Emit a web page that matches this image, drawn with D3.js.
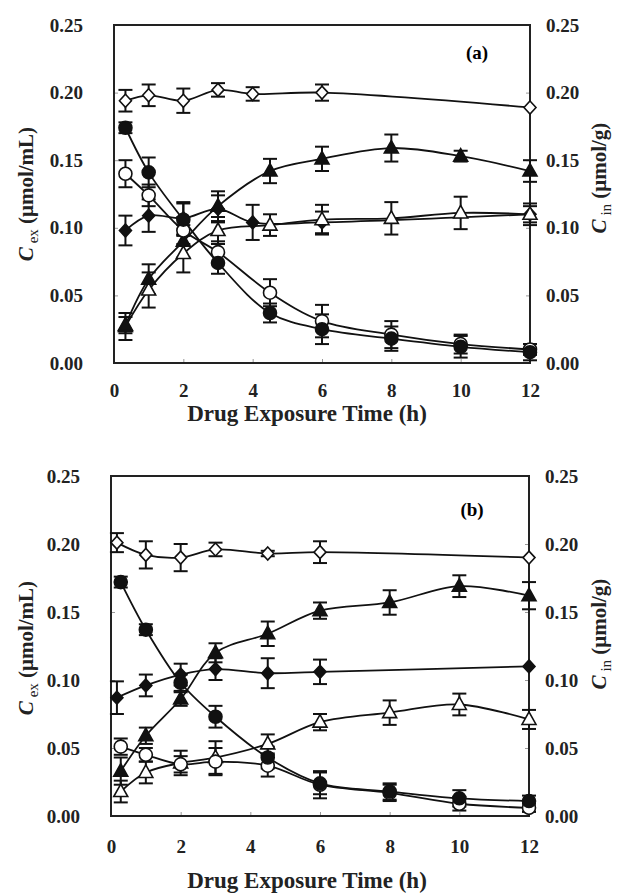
<!DOCTYPE html>
<html><head><meta charset="utf-8">
<script src="https://cdn.jsdelivr.net/npm/d3@7"></script>
<style>body{margin:0;background:#fff}</style>
</head><body><svg id="c" width="623" height="896"></svg>
<script>
// ---------- data ----------
const xTicks = [0, 2, 4, 6, 8, 10, 12];
const yTicks = [0, 0.05, 0.10, 0.15, 0.20, 0.25];

// Panel (a)
const tA = [0.33, 1, 2, 3, 4.5, 6, 8, 10, 12];
const tA_dia = [0.33, 1, 2, 3, 4, 6, 12];
const A_circleFilled = [0.174, 0.141, 0.106, 0.074, 0.037, 0.025, 0.018, 0.012, 0.008];
const A_circleFilledErr = [0.004, 0.011, 0.012, 0.008, 0.007, 0.011, 0.009, 0.008, 0.006];
const A_circleOpen = [0.140, 0.124, 0.098, 0.082, 0.052, 0.031, 0.021, 0.014, 0.010];
const A_circleOpenErr = [0.010, 0.008, 0.010, 0.008, 0.010, 0.012, 0.010, 0.007, 0.004];
const A_triFilled = [0.028, 0.062, 0.090, 0.116, 0.142, 0.151, 0.159, 0.153, 0.142];
const A_triFilledErr = [0.006, 0.011, 0.012, 0.011, 0.009, 0.009, 0.010, 0.004, 0.008];
const A_triOpen = [0.027, 0.054, 0.081, 0.098, 0.102, 0.106, 0.107, 0.111, 0.110];
const A_triOpenErr = [0.010, 0.013, 0.014, 0.010, 0.008, 0.011, 0.012, 0.012, 0.008];
const A_diaOpen = [0.194, 0.198, 0.194, 0.202, 0.199, 0.200, 0.189];
const A_diaOpenErr = [0.008, 0.008, 0.009, 0.005, 0.005, 0.006, 0];
const A_diaFilled = [0.098, 0.109, 0.107, 0.114, 0.104, 0.104, 0.110];
const A_diaFilledErr = [0.011, 0.012, 0.012, 0.010, 0.013, 0.008, 0.006];

// Panel (b)
const tB = [0.28, 1, 2, 3, 4.5, 6, 8, 10, 12];
const tB_dia = [0.17, 1, 2, 3, 4.5, 6, 12];
const B_circleFilled = [0.172, 0.137, 0.098, 0.073, 0.043, 0.024, 0.018, 0.013, 0.011];
const B_circleFilledErr = [0.004, 0.004, 0.006, 0.008, 0.008, 0.008, 0.006, 0.006, 0.004];
const B_circleOpen = [0.051, 0.045, 0.038, 0.040, 0.037, 0.023, 0.017, 0.009, 0.006];
const B_circleOpenErr = [0.006, 0.005, 0.006, 0.010, 0.008, 0.010, 0.006, 0.005, 0.003];
const B_triFilled = [0.033, 0.059, 0.086, 0.120, 0.134, 0.151, 0.157, 0.169, 0.162];
const B_triFilledErr = [0.010, 0.006, 0.005, 0.007, 0.009, 0.006, 0.009, 0.008, 0.010];
const B_triOpen = [0.018, 0.032, 0.039, 0.043, 0.053, 0.069, 0.076, 0.082, 0.071];
const B_triOpenErr = [0.008, 0.008, 0.009, 0.012, 0.007, 0.006, 0.009, 0.008, 0.007];
const B_diaOpen = [0.201, 0.192, 0.190, 0.196, 0.193, 0.194, 0.190];
const B_diaOpenErr = [0.007, 0.010, 0.010, 0.005, 0.002, 0.008, 0];
const B_diaFilled = [0.087, 0.096, 0.104, 0.108, 0.105, 0.106, 0.110];
const B_diaFilledErr = [0.012, 0.008, 0.008, 0.008, 0.011, 0.009, 0];

// ---------- drawing ----------
const svg = d3.select("#c");
const FONT = "'Liberation Serif','Times New Roman',serif";

function zip(t, v, e) { return t.map((x, i) => ({ t: x, v: v[i], e: e[i] })); }

const panels = [
  { label: "(a)", box: { l: 114, r: 530, t: 25, b: 363 }, xPad: 21, xTitleY: 421, labelPos: [477, 59],
    yTitleC: 194, yTitleRC: 178,
    series: [
      { d: zip(tA_dia, A_diaOpen, A_diaOpenErr), shape: "diamond", fill: false },
      { d: zip(tA_dia, A_diaFilled, A_diaFilledErr), shape: "diamond", fill: true },
      { d: zip(tA, A_triOpen, A_triOpenErr), shape: "triangle", fill: false },
      { d: zip(tA, A_triFilled, A_triFilledErr), shape: "triangle", fill: true },
      { d: zip(tA, A_circleOpen, A_circleOpenErr), shape: "circle", fill: false },
      { d: zip(tA, A_circleFilled, A_circleFilledErr), shape: "circle", fill: true },
    ] },
  { label: "(b)", box: { l: 111, r: 529, t: 476, b: 816 }, xPad: 24, xTitleY: 888, labelPos: [472, 516],
    yTitleC: 648, yTitleRC: 634,
    series: [
      { d: zip(tB_dia, B_diaOpen, B_diaOpenErr), shape: "diamond", fill: false },
      { d: zip(tB_dia, B_diaFilled, B_diaFilledErr), shape: "diamond", fill: true },
      { d: zip(tB, B_triOpen, B_triOpenErr), shape: "triangle", fill: false },
      { d: zip(tB, B_triFilled, B_triFilledErr), shape: "triangle", fill: true },
      { d: zip(tB, B_circleOpen, B_circleOpenErr), shape: "circle", fill: false },
      { d: zip(tB, B_circleFilled, B_circleFilledErr), shape: "circle", fill: true },
    ] },
];

function markerPath(shape) {
  if (shape === "circle") { const p = d3.path(); p.arc(0, 0, 6.5, 0, 2 * Math.PI); return p.toString(); }
  if (shape === "triangle") return "M0,-7.5L7,5L-7,5Z";
  return "M0,-6.5L6,0L0,6.5L-6,0Z";
}

panels.forEach(P => {
  const { l, r, t, b } = P.box;
  const x = d3.scaleLinear().domain([0, 12]).range([l, r]);
  const y = d3.scaleLinear().domain([0, 0.25]).range([b, t]);
  const g = svg.append("g");

  // axes
  const ax = g.append("g").attr("transform", `translate(0,${b})`)
    .call(d3.axisBottom(x).tickValues(xTicks).tickFormat(d3.format("d")).tickSizeInner(-4).tickSizeOuter(0).tickPadding(P.xPad));
  const ayl = g.append("g").attr("transform", `translate(${l},0)`)
    .call(d3.axisLeft(y).tickValues(yTicks).tickFormat(d3.format(".2f")).tickSizeInner(-4).tickSizeOuter(0).tickPadding(31));
  const ayr = g.append("g").attr("transform", `translate(${r},0)`)
    .call(d3.axisRight(y).tickValues(yTicks).tickFormat(d3.format(".2f")).tickSizeInner(-4).tickSizeOuter(0).tickPadding(16));
  [ax, ayl, ayr].forEach(a => {
    a.select(".domain").remove();
    a.selectAll(".tick line").attr("stroke", "#999").attr("stroke-width", 1);
    a.selectAll(".tick text").attr("font-family", FONT).attr("font-weight", "bold").attr("font-size", 19).attr("fill", "#222");
  });

  // frame
  g.append("rect").attr("x", l).attr("y", t).attr("width", r - l).attr("height", b - t)
    .attr("fill", "none").attr("stroke", "#222").attr("stroke-width", 2);

  // lines
  const line = d3.line().x(d => x(d.t)).y(d => y(d.v)).curve(d3.curveCatmullRom.alpha(0.5));
  P.series.forEach(s => {
    g.append("path").attr("d", line(s.d)).attr("fill", "none").attr("stroke", "#111").attr("stroke-width", 1.8);
  });
  // error bars
  P.series.forEach(s => {
    const eb = g.append("g").attr("stroke", "#111").attr("stroke-width", 2);
    s.d.filter(d => d.e > 0).forEach(d => {
      const cx = x(d.t), y1 = y(d.v + d.e), y0 = y(d.v - d.e);
      eb.append("line").attr("x1", cx).attr("x2", cx).attr("y1", y1).attr("y2", y0);
      eb.append("line").attr("x1", cx - 7).attr("x2", cx + 7).attr("y1", y1).attr("y2", y1);
      eb.append("line").attr("x1", cx - 7).attr("x2", cx + 7).attr("y1", y0).attr("y2", y0);
    });
  });
  // markers
  P.series.forEach(s => {
    g.append("g").selectAll("path").data(s.d).join("path")
      .attr("d", markerPath(s.shape))
      .attr("transform", d => `translate(${x(d.t)},${y(d.v)})`)
      .attr("fill", s.fill ? "#111" : "#fff").attr("stroke", "#111").attr("stroke-width", 1.6);
  });

  // panel label
  g.append("text").attr("x", P.labelPos[0]).attr("y", P.labelPos[1]).attr("text-anchor", "middle")
    .attr("font-family", FONT).attr("font-weight", "bold").attr("font-size", 19).text(P.label);

  // x title
  g.append("text").attr("x", 307).attr("y", P.xTitleY).attr("text-anchor", "middle")
    .attr("font-family", FONT).attr("font-weight", "bold").attr("font-size", 23).attr("fill", "#222")
    .text("Drug Exposure Time (h)");

  // left y title
  const lt = g.append("text").attr("transform", `translate(33,${P.yTitleC}) rotate(-90)`).attr("text-anchor", "middle")
    .attr("font-family", FONT).attr("font-size", 21).attr("font-weight", "bold").attr("fill", "#222");
  lt.append("tspan").attr("font-style", "italic").text("C");
  lt.append("tspan").attr("font-size", 15).attr("font-weight", "normal").attr("dy", 5).text(" ex");
  lt.append("tspan").attr("dy", -5).text(" (μmol/mL)");

  // right y title
  const rt = g.append("text").attr("transform", `translate(606,${P.yTitleRC}) rotate(-90)`).attr("text-anchor", "middle")
    .attr("font-family", FONT).attr("font-size", 21).attr("font-weight", "bold").attr("fill", "#222");
  rt.append("tspan").attr("font-style", "italic").text("C");
  rt.append("tspan").attr("font-size", 15).attr("font-weight", "normal").attr("dy", 5).text(" in");
  rt.append("tspan").attr("dy", -5).text(" (μmol/g)");
});
</script></body></html>
